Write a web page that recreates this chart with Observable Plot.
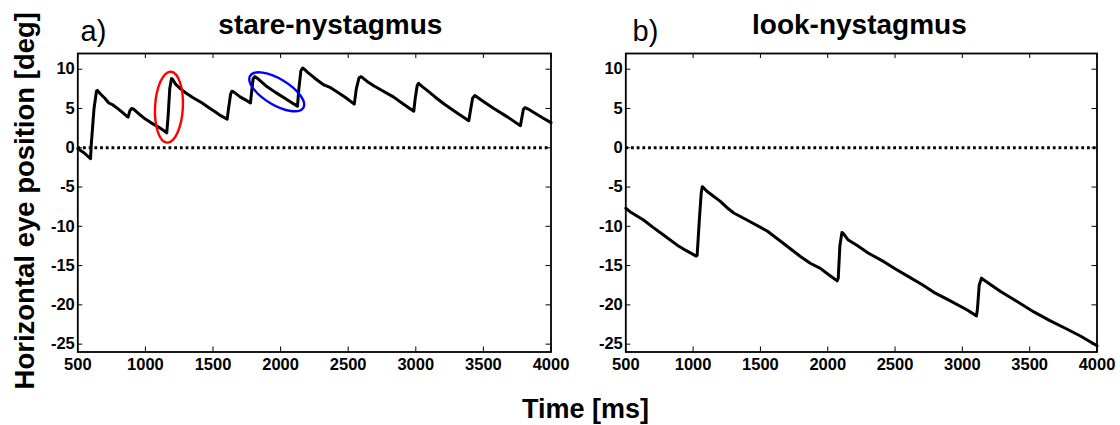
<!DOCTYPE html>
<html>
<head>
<meta charset="utf-8">
<script src="https://cdn.jsdelivr.net/npm/d3@7"></script>
<script src="https://cdn.jsdelivr.net/npm/@observablehq/plot@0.6"></script>
<style>
  html, body { margin: 0; padding: 0; background: #ffffff; }
  #wrap { position: relative; width: 1120px; height: 425px; overflow: hidden; background: #ffffff; }
</style>
</head>
<body>
<div id="wrap"></div>
<script>
// ---------- data ----------
const xTicks = [500, 1000, 1500, 2000, 2500, 3000, 3500, 4000];
const yTicks = [-25, -20, -15, -10, -5, 0, 5, 10];

const panelLetters = ["a)", "b)"];
const panelTitles = ["stare-nystagmus", "look-nystagmus"];
const xLabel = "Time [ms]";
const yLabel = "Horizontal eye position [deg]";

// a) stare-nystagmus trace
const stareTime = [500, 550, 594, 600, 620, 638, 645, 668, 700, 729, 760, 791, 830, 860, 872,
  885, 897, 910, 927, 960, 988, 1020, 1050, 1100, 1143, 1158,
  1168, 1180, 1193, 1200, 1223, 1260, 1297, 1350, 1420, 1470, 1518, 1560, 1605,
  1615, 1630, 1640, 1650, 1703, 1740, 1777,
  1785, 1797, 1810, 1827, 1890, 1962, 2040, 2100, 2125,
  2135, 2150, 2163, 2175, 2200, 2246, 2280, 2320, 2370, 2419, 2480, 2545,
  2560, 2580, 2596, 2640, 2689, 2760, 2837, 2910, 2985,
  2995, 3010, 3020, 3050, 3084, 3140, 3207, 3300, 3392,
  3402, 3420, 3437, 3500, 3577, 3680, 3774,
  3784, 3796, 3808, 3840, 3873, 3940, 4000];
const starePos = [-0.1, -0.7, -1.4, 0.5, 5.0, 7.2, 7.3, 6.85, 6.3, 5.7, 5.45, 5.05, 4.5, 4.05, 3.9,
  4.7, 5.0, 4.95, 4.7, 4.2, 3.8, 3.45, 3.1, 2.6, 2.1, 1.9,
  4.0, 7.5, 8.8, 8.75, 8.1, 7.5, 7.0, 6.4, 5.7, 5.1, 4.55, 4.05, 3.65,
  5.0, 6.8, 7.2, 7.15, 6.45, 6.1, 5.7,
  7.0, 8.8, 9.05, 8.85, 7.9, 7.05, 6.2, 5.55, 5.3,
  7.5, 9.8, 10.15, 10.0, 9.6, 8.95, 8.5, 8.0, 7.65, 7.1, 6.4, 5.55,
  7.5, 8.9, 9.05, 8.45, 7.9, 7.2, 6.45, 5.55, 4.65,
  6.2, 7.9, 8.2, 7.75, 7.3, 6.5, 5.6, 4.5, 3.45,
  4.5, 6.3, 6.65, 5.9, 5.0, 3.9, 2.8,
  3.8, 4.9, 5.1, 4.85, 4.5, 3.8, 3.2];

// b) look-nystagmus trace
const lookTime = [500, 540, 632, 700, 780, 882, 950, 1023, 1030,
  1045, 1060, 1068, 1078, 1100, 1154, 1200, 1250, 1302, 1400, 1550, 1650, 1797, 1870, 1945, 2010, 2070,
  2078, 2090, 2105, 2115, 2150, 2219, 2300, 2417, 2500, 2600, 2700, 2788, 2900, 3036, 3105,
  3112, 3125, 3142, 3200, 3284, 3400, 3531, 3650, 3779, 3880, 3940, 4000];
const lookPos = [-7.7, -8.25, -9.2, -10.1, -11.1, -12.4, -13.1, -13.8, -13.7,
  -9.5, -5.8, -4.95, -5.1, -5.5, -6.2, -6.8, -7.6, -8.3, -9.2, -10.6, -11.9, -13.85, -14.7, -15.35, -16.2, -16.95,
  -16.6, -12.5, -10.8, -10.9, -11.7, -12.45, -13.4, -14.5, -15.4, -16.4, -17.4, -18.4, -19.4, -20.65, -21.4,
  -20.5, -17.5, -16.6, -17.3, -18.3, -19.5, -20.9, -22.0, -23.1, -24.0, -24.6, -25.2];

// annotation ellipses in panel a)
const markTime = [1178, 1975];
const markPos = [5.1, 7.06];
const markColor = ["#ff0000", "#0000ff"];

// ---------- layout / style ----------
const FONT = '"Liberation Sans", Arial, Helvetica, sans-serif';
const H = 425, MT = 53, MB = 73.5;
const ellipseShape = [{rx: 13.9, ry: 35.5, angle: 3}, {rx: 31, ry: 13, angle: 31}];

function ellipseMark(index, scales) {
  const g = d3.create("svg:g");
  markTime.forEach((t, i) => {
    const s = ellipseShape[i];
    g.append("ellipse")
      .attr("cx", 0).attr("cy", 0)
      .attr("rx", s.rx).attr("ry", s.ry)
      .attr("transform", `translate(${scales.x(t)},${scales.y(markPos[i])}) rotate(${s.angle})`)
      .attr("fill", "none")
      .attr("stroke", markColor[i])
      .attr("stroke-width", 2.4);
  });
  return g.node();
}

function panel(cfg) {
  const fw = cfg.width - cfg.ml - cfg.mr;
  const fh = H - MT - MB;
  const rows = cfg.t.map((t, i) => ({t, v: cfg.v[i]}));
  const marks = [
    Plot.ruleY([0], {stroke: "black", strokeWidth: 3, strokeDasharray: "2.8,2.9"}),
    Plot.line(rows, {x: "t", y: "v", stroke: "black", strokeWidth: 3, strokeLinejoin: "round", strokeLinecap: "round"}),
    Plot.ruleX(xTicks, {insetTop: fh - 5, stroke: "black", strokeWidth: 1}),
    Plot.ruleX(xTicks, {insetBottom: fh - 5, stroke: "black", strokeWidth: 1}),
    Plot.ruleY(yTicks, {insetRight: fw - 5, stroke: "black", strokeWidth: 1}),
    Plot.ruleY(yTicks, {insetLeft: fw - 5, stroke: "black", strokeWidth: 1}),
    Plot.frame({stroke: "black", strokeWidth: 1.8}),
    Plot.axisX({ticks: xTicks, tickSize: 0, tickPadding: 6, tickFormat: d => String(d),
      fontSize: 16.5, fontWeight: "bold", fill: "black", label: null}),
    Plot.axisY({ticks: yTicks, tickSize: 0, tickPadding: 3, tickFormat: d => String(d),
      fontSize: 16.5, fontWeight: "bold", fill: "black", label: null}),
    Plot.text([cfg.letter], {frameAnchor: "top-left", textAnchor: "start", lineAnchor: "bottom",
      dx: cfg.letterDx, dy: -12.3, fontSize: 29, fontWeight: "normal", fill: "black"}),
    Plot.text([cfg.title], {frameAnchor: "top", textAnchor: "middle", lineAnchor: "bottom",
      dx: cfg.titleDx, dy: -19.7, fontSize: 28, fontWeight: "bold", fill: "black"})
  ];
  if (cfg.extra) marks.push(...cfg.extra);
  return Plot.plot({
    width: cfg.width, height: H,
    marginLeft: cfg.ml, marginRight: cfg.mr, marginTop: MT, marginBottom: MB,
    x: {domain: [500, 4000]},
    y: {domain: [-26, 12]},
    style: {background: "transparent", overflow: "visible", fontFamily: FONT, color: "black",
      position: "absolute", left: cfg.left + "px", top: "0px", maxWidth: "none"},
    marks
  });
}

const wrap = document.getElementById("wrap");

wrap.appendChild(panel({
  left: 0, width: 560, ml: 77.3, mr: 9.5,
  t: stareTime, v: starePos,
  letter: panelLetters[0], letterDx: 2.7,
  title: panelTitles[0], titleDx: 16,
  extra: [
    ellipseMark,
    Plot.text([yLabel], {frameAnchor: "left", rotate: -90, textAnchor: "middle", lineAnchor: "bottom",
      dx: 33 - 77.3, dy: -2, fontSize: 27.5, fontWeight: "bold", fill: "black"}),
    Plot.text([xLabel], {frameAnchor: "bottom-left", textAnchor: "middle", lineAnchor: "bottom",
      dx: 585 - 77.3, dy: 417.3 - 351.5, fontSize: 27, fontWeight: "bold", fill: "black"})
  ]
}));

wrap.appendChild(panel({
  left: 560, width: 560, ml: 65.3, mr: 23.5,
  t: lookTime, v: lookPos,
  letter: panelLetters[1], letterDx: 6.7,
  title: panelTitles[1], titleDx: -2
}));
</script>
</body>
</html>
